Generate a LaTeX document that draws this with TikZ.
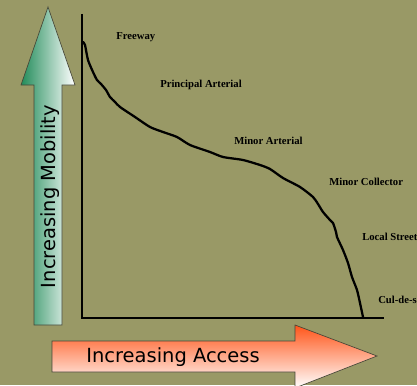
\documentclass[tikz,border=0pt]{standalone}
\usepackage{fontspec}
\setmainfont{Liberation Serif}
\newfontfamily\arrowfont{DejaVu Sans}
\usepackage{tikz}
\usetikzlibrary{shapes,arrows}

\definecolor{bgolive}{RGB}{153,153,102}
\definecolor{mobgreen}{RGB}{34,140,90}
\definecolor{accorange}{RGB}{255,85,25}
\definecolor{arrowline}{RGB}{70,70,55}

\begin{document}
\begin{tikzpicture}
		[
		x = 0.75pt, y = -0.75pt,
		axis/.style = {black, line width = 1.6pt},
		curve/.style = {black, line width = 1.7pt, line join = round, line cap = round},
		road/.style = {anchor = west, inner sep = 0pt, font = \bfseries\fontsize{8}{9}\selectfont},
		bigarrow/.style = {draw = arrowline, line width = 0.5pt},
		arrowtext/.style = {inner sep = 0pt, font = \arrowfont\fontsize{14.6}{16}\selectfont}
		]
		
		\useasboundingbox (0,0) rectangle (417,385);
		\fill[bgolive] (0,0) rectangle (417,385);
		\clip (0,0) rectangle (417,385);
		
		% mobility arrow
		\shade[bigarrow, left color = mobgreen, right color = white]
			(34,325) -- (34,85) -- (21,85) -- (48,7) -- (75,85) -- (62,85) -- (62,325) -- cycle;
		\node[arrowtext, rotate = 90, anchor = base] (mobility) at (55,196.5) {Increasing Mobility};
		
		% access arrow
		\shade[bigarrow, top color = accorange, bottom color = white]
			(52,341) -- (295,341) -- (295,325) -- (377,356) -- (295,388) -- (295,372) -- (52,372) -- cycle;
		\node[arrowtext, anchor = base] (access) at (173,362) {Increasing Access};
		
		% axes
		\coordinate (ytop) at (82,14);
		\coordinate (origin) at (82,318);
		\coordinate (xend) at (384,318);
		\draw[axis] (ytop) -- (origin) -- (xend);
		
		% curve
		\draw[curve] plot[smooth, tension = 0.4] coordinates {
			(83,42) (85,45) (88,60) (93,72) (97,80) (101,84) (106,90) (110,97)
			(115,102) (120,107) (135,117) (150,127) (163,132) (177,137) (190,145)
			(210,152) (223,157) (243,160) (260,165) (270,169) (283,178) (300,187)
			(313,197) (318,204) (323,212) (330,220) (333,223) (336,232) (337,237)
			(343,250) (348,263) (352,277) (357,290) (360,303) (363,317)};
		
		% labels
		\node[road] (freeway) at (116,37) {Freeway};
		\node[road] (principal) at (160,85) {Principal Arterial};
		\node[road] (minorart) at (234,141) {Minor Arterial};
		\node[road] (collector) at (329,182) {Minor Collector};
		\node[road] (local) at (362,237) {Local Street};
		\node[road] (culdesac) at (378,300) {Cul-de-sac};
		
		\end{tikzpicture}
\end{document}
